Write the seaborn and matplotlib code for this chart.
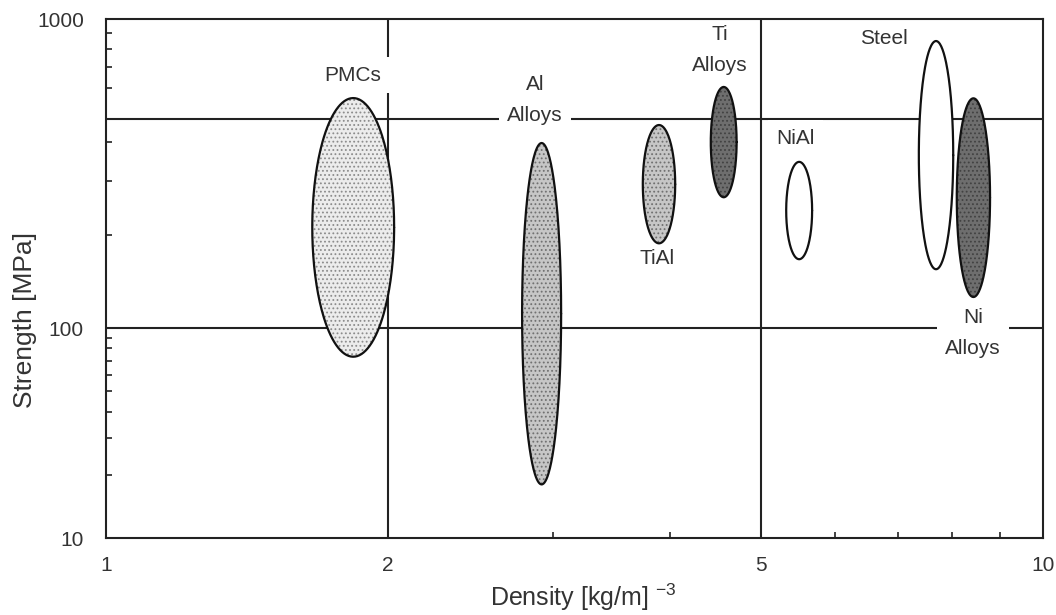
import numpy as np
import pandas as pd
import matplotlib
matplotlib.use("Agg")
import matplotlib.pyplot as plt
import seaborn as sns

# material property envelopes (density range, strength range)
materials = ["PMCs", "Al Alloys", "TiAl", "Ti Alloys", "NiAl", "Steel", "Ni Alloys"]
density_low = [1.66, 2.78, 3.74, 4.42, 5.32, 7.37, 8.09]
density_high = [2.03, 3.06, 4.05, 4.71, 5.67, 8.02, 8.78]
strength_low = [73, 18, 188, 265, 167, 155, 126]
strength_high = [555, 397, 454, 603, 345, 849, 554]

# label text and where it sits (data units)
label_text = ["PMCs", "Al\nAlloys", "TiAl", "Ti\nAlloys", "NiAl", "Steel", "Ni\nAlloys"]
label_x = [1.835, 2.87, 3.87, 4.52, 5.44, 6.77, 8.42]
label_y = [659, 547, 168.5, 796, 412, 868, 95.2]

# reference lines
density_lines = [2, 5]
strength_lines = [100, 475]

# fills: face colour, dot colour (None = plain)
face_colors = ["#ececec", "#c6c6c6", "#c6c6c6", "#6e6e6e", "white", "white", "#6e6e6e"]
dot_colors = ["#8c8c8c", "#707070", "#707070", "#424242", None, None, "#424242"]

# y axis of the original: the 100-1000 decade is drawn taller than 10-100
LOW_DEC, HIGH_DEC = 210.0, 309.0


def fwd(y):
    y = np.asarray(y, dtype=float)
    with np.errstate(divide="ignore", invalid="ignore"):
        l = np.log10(np.where(y > 0, y, 1e-9)) - 2
    return np.where(l < 0, l * LOW_DEC, l * HIGH_DEC)


def inv(v):
    v = np.asarray(v, dtype=float)
    return np.where(v < 0, 10 ** (2 + v / LOW_DEC), 10 ** (2 + v / HIGH_DEC))


sns.set_theme(style="ticks")
plt.rcParams["font.family"] = ["Liberation Sans", "DejaVu Sans"]
plt.rcParams["mathtext.default"] = "regular"
plt.rcParams["hatch.linewidth"] = 0.8

# outline points of each envelope, ellipse in scaled space
t = np.linspace(0, 2 * np.pi, 240)
rows = []
for i, m in enumerate(materials):
    lx0, lx1 = np.log10(density_low[i]), np.log10(density_high[i])
    fy0, fy1 = fwd(strength_low[i]), fwd(strength_high[i])
    xs = 10 ** ((lx0 + lx1) / 2 + (lx1 - lx0) / 2 * np.cos(t))
    ys = inv((fy0 + fy1) / 2 + (fy1 - fy0) / 2 * np.sin(t))
    for k in range(len(t)):
        rows.append({"material": m, "order": k, "density": xs[k], "strength": ys[k]})
df = pd.DataFrame(rows)

fig = plt.figure(figsize=(10.56, 6.15), dpi=100)
ax = fig.add_axes([0.1004, 0.1252, 0.8873, 0.8438])

ax.set_xscale("log")
ax.set_yscale("function", functions=(fwd, inv))

for v in density_lines:
    ax.axvline(v, color="#222222", lw=1.5, zorder=1)
for v in strength_lines:
    ax.axhline(v, color="#222222", lw=1.5, zorder=1)

for i, m in enumerate(materials):
    sub = df[df["material"] == m]
    ax.fill(sub["density"], sub["strength"], facecolor=face_colors[i], edgecolor="none", zorder=3)
    if dot_colors[i] is not None:
        ax.fill(sub["density"], sub["strength"], facecolor="none", edgecolor=dot_colors[i],
                hatch="....", linewidth=0, zorder=3.2)

sns.lineplot(data=df, x="density", y="strength", units="material", estimator=None,
             sort=False, color="#111111", linewidth=1.6, ax=ax, zorder=4)

for txt, x, y in zip(label_text, label_x, label_y):
    ax.text(x, y, txt, ha="center", va="center", fontsize=15, color="#333333",
            linespacing=1.8, zorder=2.5,
            bbox=dict(facecolor="white", edgecolor="none", pad=6))

ax.set_xlim(1, 10)
ax.set_ylim(10, 1000)
ax.set_xticks([1, 2, 5, 10], labels=["1", "2", "5", "10"])
ax.set_xticks([3, 4, 6, 7, 8, 9], minor=True)
ax.set_xticklabels([], minor=True)
ax.set_yticks([10, 100, 1000], labels=["10", "100", "1000"])
ax.set_yticks([20, 30, 40, 50, 60, 70, 80, 90, 200, 300, 400, 600, 700, 800, 900], minor=True)
ax.set_yticklabels([], minor=True)

ax.tick_params(axis="both", which="major", length=0, labelsize=15, labelcolor="#333333")
ax.tick_params(axis="x", which="major", pad=13)
ax.tick_params(axis="y", which="major", pad=16)
ax.tick_params(axis="both", which="minor", direction="in", length=4, width=1.2, color="#222222")

for s in ax.spines.values():
    s.set_color("#222222")
    s.set_linewidth(1.5)

ax.set_xlabel("Density [kg/m] $^{-3}$", fontsize=18, color="#333333")
ax.set_ylabel("Strength [MPa]", fontsize=19, color="#333333")
ax.xaxis.set_label_coords(0.509, -0.084)
ax.yaxis.set_label_coords(-0.074, 0.42)

fig.savefig("out.png", dpi=100)
